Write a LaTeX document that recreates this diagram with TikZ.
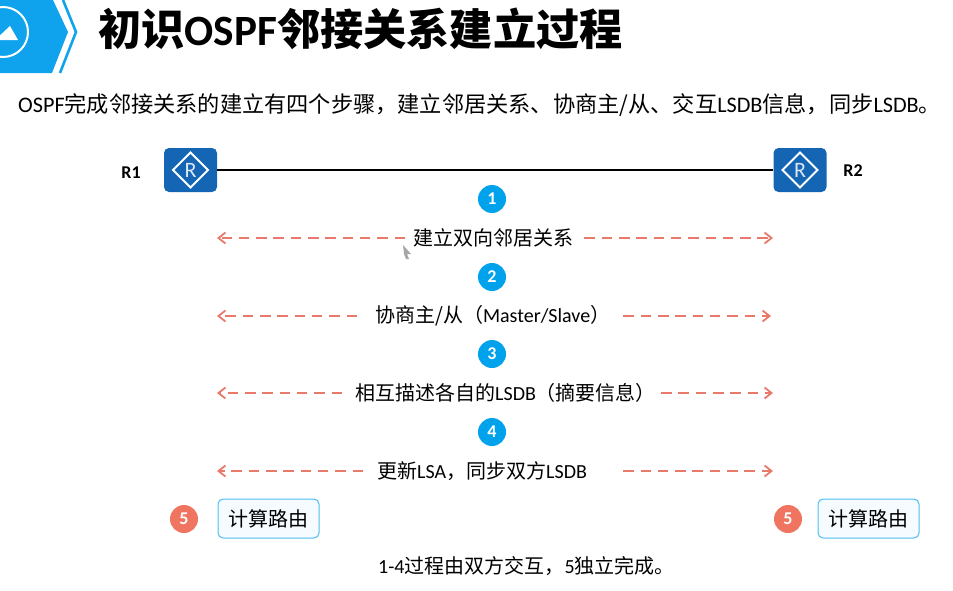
\documentclass[tikz,border=0pt]{standalone}
\usepackage{fontspec}
\setmainfont{Noto Sans CJK SC}
\newfontfamily\latinfont{Carlito}
\newcommand{\lat}[1]{{\latinfont #1}}
\usetikzlibrary{shapes.geometric, arrows.meta}
\definecolor{hdrblue}{HTML}{0FA3EE}
\definecolor{stepblue}{HTML}{00A2EC}
\definecolor{stepred}{HTML}{EF7560}
\definecolor{routerblue}{HTML}{1565B5}
\definecolor{dashred}{HTML}{E8796B}
\tikzset{
    routerbox/.style={fill=routerblue, rounded corners=5pt, minimum width=53pt, minimum height=44pt, inner sep=0pt},
    routermark/.style={white, line width=2pt},
    routerletter/.style={white!85!routerblue, font=\latinfont\fontsize{22}{22}\selectfont},
    stepdot/.style={circle, fill=stepblue, minimum size=28pt, inner sep=0pt, text=white, font=\latinfont\fontsize{18}{18}\selectfont\bfseries},
    reddot/.style={stepdot, fill=stepred},
    steptext/.style={anchor=west, font=\fontsize{20}{20}\selectfont, inner sep=0pt},
    calcbox/.style={draw=stepblue!70, fill=stepblue!4, rounded corners=5pt, line width=1pt, minimum width=101pt, minimum height=39pt, inner sep=0pt, font=\fontsize{20}{20}\selectfont},
    dasharrow/.style={draw=dashred, line width=1.8pt, dash pattern=on 10.5pt off 6.8pt, -{Straight Barb[length=7pt,width=11pt,line width=1.8pt]}},
    rname/.style={font=\latinfont\fontsize{18}{18}\selectfont\bfseries}
}
\begin{document}
\begin{tikzpicture}[x=1pt, y=-1pt]
    \useasboundingbox (0,0) rectangle (953,590);
    % Logo
    \fill[hdrblue] (0,0) -- (53,0) -- (68,32) -- (52,73) -- (0,73) -- cycle;
    \draw[hdrblue, line width=2.6pt] (63,0) -- (76,32) -- (60,73);
    \draw[white, line width=2pt] (3,32) circle (25);
    \fill[white] (-5,40) -- (10,26) -- (18,40) -- cycle;
    % Titulo
    \node[anchor=west, inner sep=0pt, font=\fontsize{43.2}{46}\selectfont\bfseries] (title) at (98,29) {初识\lat{OSPF}邻接关系建立过程};
    \node[anchor=west, inner sep=0pt, font=\fontsize{22.2}{24}\selectfont] (intro) at (18,105) {\lat{OSPF}完成邻接关系的建立有四个步骤，建立邻居关系、协商主/从、交互\lat{LSDB}信息，同步\lat{LSDB}。};
    % Roteadores
    \node[routerbox] (R1) at (190.5,170) {};
    \node[routerbox] (R2) at (800,170) {};
    \draw[routermark] (R1.center) +(-17.5,0) -- +(0,-17.5) -- +(17.5,0) -- +(0,17.5) -- cycle;
    \draw[routermark] (R2.center) +(-17.5,0) -- +(0,-17.5) -- +(17.5,0) -- +(0,17.5) -- cycle;
    \node[routerletter] at (R1) {R};
    \node[routerletter] at (R2) {R};
    \node[rname] (nameA) at (131,173) {R1};
    \node[rname] (nameB) at (853,171) {R2};
    \draw[line width=1.4pt] (R1) -- (R2);
    % Passos
    \node[stepdot] (dotA) at (492,199) {1};
    \node[stepdot] (dotB) at (492,277) {2};
    \node[stepdot] (dotC) at (492,354) {3};
    \node[stepdot] (dotD) at (492,432) {4};
    \node[steptext] (stepA) at (413,238) {建立双向邻居关系};
    \node[steptext] (stepB) at (375,316) {协商主/从（\lat{Master/Slave}）};
    \node[steptext] (stepC) at (355,393) {相互描述各自的\lat{LSDB}（摘要信息）};
    \node[steptext] (stepD) at (377,471) {更新\lat{LSA}，同步双方\lat{LSDB}};
    % Setas
    \coordinate (leftA) at (217,238);
    \coordinate (rightA) at (773,238);
    \coordinate (leftB) at (217,316);
    \coordinate (rightB) at (771,316);
    \coordinate (leftC) at (217,393);
    \coordinate (rightC) at (773,393);
    \coordinate (leftD) at (217,471);
    \coordinate (rightD) at (773,471);
    \draw[dasharrow, shorten <=8pt] (stepA.west) -- (leftA);
    \draw[dasharrow, shorten <=11pt] (stepA.east) -- (rightA);
    \draw[dasharrow, shorten <=18pt] (stepB.west) -- (leftB);
    \draw[dasharrow, shorten <=13pt] (stepB.east) -- (rightB);
    \draw[dasharrow, shorten <=13pt] (stepC.west) -- (leftC);
    \draw[dasharrow, shorten <=5pt] (stepC.east) -- (rightC);
    \draw[dasharrow, shorten <=14pt] (stepD.west) -- (leftD);
    \draw[dasharrow, shorten <=36pt] (stepD.east) -- (rightD);
    % Calculo
    \node[reddot] (dotL) at (184,519) {5};
    \node[reddot] (dotR) at (788,519) {5};
    \node[calcbox] (calcL) at (268.5,518.5) {计算路由};
    \node[calcbox] (calcR) at (868.5,518.5) {计算路由};
    \node[anchor=west, font=\fontsize{20}{20}\selectfont, inner sep=0pt] (note) at (378,566) {\lat{1-4}过程由双方交互，\lat{5}独立完成。};
    % Cursor
    \fill[gray!70] (403,245) -- (411,254) -- (407,254) -- (409,259) -- (406,259) -- (404,254) -- cycle;
\end{tikzpicture}
\end{document}
